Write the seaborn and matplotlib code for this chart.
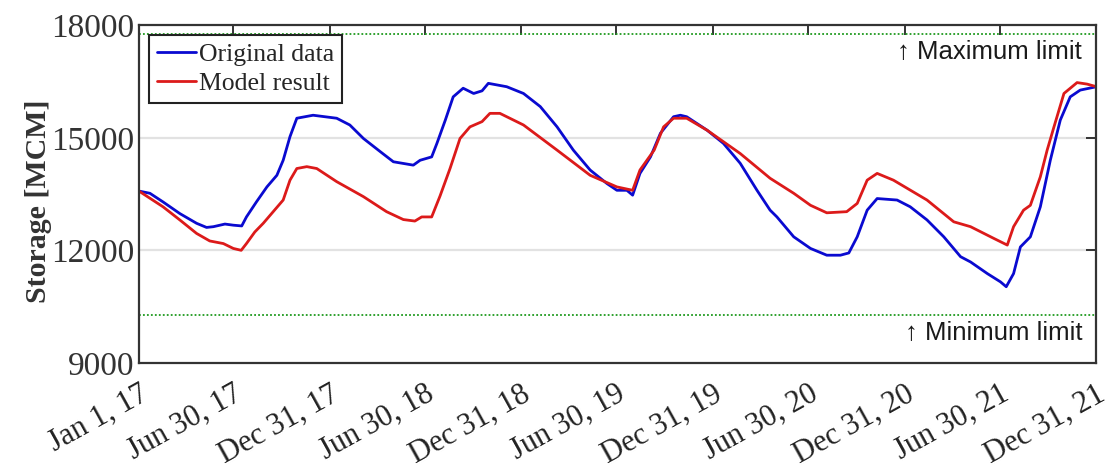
import matplotlib
matplotlib.use("Agg")
import matplotlib.pyplot as plt
import matplotlib.transforms as mtransforms
import numpy as np
import pandas as pd
import seaborn as sns

# Reservoir storage, observed series (MCM)
obs_dates = [
    "2017-01-01", "2017-01-22", "2017-02-16", "2017-03-20", "2017-04-21", "2017-05-10",
    "2017-05-23", "2017-06-14", "2017-06-30", "2017-07-16", "2017-07-25", "2017-08-13",
    "2017-09-02", "2017-09-21", "2017-10-03", "2017-10-16", "2017-10-29", "2017-11-29",
    "2018-01-13", "2018-02-07", "2018-03-05", "2018-04-06", "2018-05-01", "2018-06-08",
    "2018-06-21", "2018-07-13", "2018-07-23", "2018-08-08", "2018-08-23", "2018-09-11",
    "2018-10-01", "2018-10-17", "2018-10-29", "2018-12-03", "2019-01-04", "2019-02-05",
    "2019-03-09", "2019-04-09", "2019-05-11", "2019-06-12", "2019-07-01", "2019-07-20",
    "2019-07-31", "2019-08-14", "2019-09-03", "2019-09-22", "2019-10-17", "2019-10-30",
    "2019-11-11", "2019-12-20", "2020-01-20", "2020-02-21", "2020-03-24", "2020-04-18",
    "2020-05-01", "2020-06-02", "2020-07-04", "2020-08-04", "2020-08-30", "2020-09-15",
    "2020-10-01", "2020-10-20", "2020-11-08", "2020-12-16", "2021-01-10", "2021-02-11",
    "2021-03-15", "2021-04-16", "2021-05-05", "2021-06-06", "2021-07-01", "2021-07-12",
    "2021-07-26", "2021-08-08", "2021-08-27", "2021-09-15", "2021-10-04", "2021-10-23",
    "2021-11-11", "2021-11-30", "2021-12-31",
]
obs_storage = [
    13580, 13520, 13290, 12980, 12720, 12610,
    12630, 12700, 12670, 12650, 12890, 13290,
    13690, 14000, 14400, 15030, 15520, 15600,
    15520, 15340, 14980, 14630, 14360, 14270,
    14400, 14490, 14850, 15470, 16090, 16320,
    16180, 16250, 16450, 16360, 16180, 15830,
    15290, 14670, 14140, 13780, 13600, 13600,
    13470, 14050, 14490, 15120, 15560, 15600,
    15560, 15200, 14850, 14320, 13600, 13070,
    12890, 12360, 12050, 11870, 11870, 11930,
    12360, 13070, 13380, 13340, 13160, 12810,
    12360, 11830, 11690, 11380, 11160, 11030,
    11380, 12090, 12360, 13160, 14400, 15470,
    16090, 16270, 16360,
]

# Reservoir storage, simulated by the operation model (MCM)
mod_dates = [
    "2017-01-01", "2017-02-16", "2017-03-20", "2017-04-21", "2017-05-16", "2017-06-11",
    "2017-06-30", "2017-07-15", "2017-07-25", "2017-08-10", "2017-08-26", "2017-09-14",
    "2017-10-03", "2017-10-16", "2017-10-29", "2017-11-17", "2017-12-06", "2018-01-13",
    "2018-03-05", "2018-04-18", "2018-05-20", "2018-06-11", "2018-06-24", "2018-07-13",
    "2018-07-29", "2018-08-17", "2018-09-05", "2018-09-24", "2018-10-17", "2018-11-01",
    "2018-11-20", "2019-01-04", "2019-03-09", "2019-05-11", "2019-07-01", "2019-07-31",
    "2019-08-14", "2019-09-10", "2019-09-28", "2019-10-17", "2019-11-11", "2019-12-20",
    "2020-02-21", "2020-04-18", "2020-06-02", "2020-07-04", "2020-08-04", "2020-09-11",
    "2020-10-01", "2020-10-20", "2020-11-08", "2020-12-09", "2021-02-11", "2021-04-03",
    "2021-05-05", "2021-06-18", "2021-07-14", "2021-07-26", "2021-08-14", "2021-08-27",
    "2021-09-15", "2021-09-28", "2021-10-11", "2021-10-30", "2021-11-24", "2021-12-13",
    "2021-12-31",
]
mod_storage = [
    13580, 13160, 12810, 12450, 12250, 12180,
    12050, 12000, 12180, 12490, 12720, 13030,
    13340, 13870, 14180, 14230, 14180, 13830,
    13430, 13030, 12820, 12780, 12890, 12890,
    13450, 14180, 14980, 15290, 15430, 15650,
    15650, 15340, 14670, 14000, 13690, 13600,
    14140, 14670, 15290, 15520, 15520, 15200,
    14580, 13920, 13520, 13200, 13000, 13030,
    13250, 13870, 14050, 13870, 13340, 12760,
    12630, 12320, 12140, 12630, 13070, 13200,
    13960, 14670, 15290, 16180, 16470, 16430,
    16360,
]

max_limit = 17760
min_limit = 10270

tick_dates = ["2017-01-01", "2017-06-30", "2017-12-31", "2018-06-30", "2018-12-31",
              "2019-06-30", "2019-12-31", "2020-06-30", "2020-12-31", "2021-06-30",
              "2021-12-31"]
tick_labels = ["Jan 1, 17", "Jun 30, 17", "Dec 31, 17", "Jun 30, 18", "Dec 31, 18",
               "Jun 30, 19", "Dec 31, 19", "Jun 30, 20", "Dec 31, 20", "Jun 30, 21",
               "Dec 31, 21"]
y_ticks = [9000, 12000, 15000, 18000]

series_names = ["Original data", "Model result"]
series_colors = ["#0a0ad0", "#dc1a1a"]

df = pd.concat([
    pd.DataFrame({"date": pd.to_datetime(obs_dates), "storage": obs_storage,
                  "series": series_names[0]}),
    pd.DataFrame({"date": pd.to_datetime(mod_dates), "storage": mod_storage,
                  "series": series_names[1]}),
], ignore_index=True)

sns.set_style("white")
plt.rcParams["font.family"] = ["Liberation Serif", "DejaVu Serif"]

fig = plt.figure(figsize=(11.2, 4.75), dpi=100)
ax = fig.add_axes([0.124, 0.236, 0.855, 0.711])

ax.axhline(12000, color="#e2e2e2", lw=1.6, zorder=0)
ax.axhline(15000, color="#e2e2e2", lw=1.6, zorder=0)

sns.lineplot(data=df, x="date", y="storage", hue="series",
             hue_order=series_names, palette=series_colors,
             linewidth=2.0, ax=ax, estimator=None, sort=False)

ax.axhline(max_limit, color="#1f9a1f", lw=1.3, ls=(0, (1, 1.2)), zorder=1)
ax.axhline(min_limit, color="#1f9a1f", lw=1.3, ls=(0, (1, 1.2)), zorder=1)

ax.text(0.985, 17285, "\u2191 Maximum limit", transform=ax.get_yaxis_transform(),
        ha="right", va="center", fontsize=18.5, color="#1a1a1a",
        family=["Liberation Sans", "DejaVu Sans"])
ax.text(0.985, 9790, "\u2191 Minimum limit", transform=ax.get_yaxis_transform(),
        ha="right", va="center", fontsize=18.5, color="#1a1a1a",
        family=["Liberation Sans", "DejaVu Sans"])

ax.set_xlim(pd.Timestamp("2017-01-01"), pd.Timestamp("2021-12-31"))
ax.set_ylim(9000, 18000)
ax.set_xticks(pd.to_datetime(tick_dates))
ax.set_xticklabels(tick_labels, rotation=29, ha="right", rotation_mode="anchor",
                   fontsize=22, color="#222222")
shift = mtransforms.ScaledTranslation(9 / 100, 0, fig.dpi_scale_trans)
for lab in ax.get_xticklabels():
    lab.set_transform(lab.get_transform() + shift)
ax.set_yticks(y_ticks)
ax.set_yticklabels([str(v) for v in y_ticks], fontsize=24, color="#333333")
ax.set_xlabel("")
ax.set_ylabel("Storage [MCM]", fontsize=21.5, fontweight="bold", color="#333333")
ax.yaxis.set_label_coords(-0.091, 0.48)

ax.tick_params(axis="both", which="major", direction="in", length=7, width=1.4,
               top=True, right=True, color="#333333")
ax.tick_params(axis="x", pad=12)
ax.tick_params(axis="y", pad=3)
for s in ax.spines.values():
    s.set_color("#333333")
    s.set_linewidth(1.6)

leg = ax.legend(title=None, loc="upper left", bbox_to_anchor=(0.0105, 0.97),
                borderaxespad=0, fontsize=18.5, frameon=True, fancybox=False,
                framealpha=1, edgecolor="#222222", handlelength=1.55,
                handletextpad=0.1, borderpad=0.3, labelspacing=0.25)
leg.get_frame().set_linewidth(1.5)

fig.savefig("out.png", dpi=100)
